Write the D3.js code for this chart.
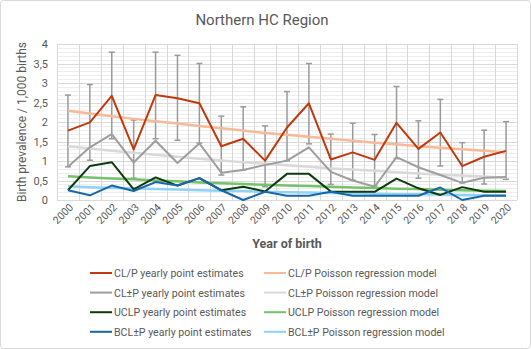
<!DOCTYPE html>
<html>
<head>
<meta charset="utf-8">
<script src="https://cdn.jsdelivr.net/npm/d3@7"></script>
<style>
  body { margin: 0; background: #fff; }
  text { font-family: Roboto, "Liberation Sans", sans-serif; fill: #595959; }
</style>
</head>
<body>
<div id="chart"></div>
<script>
// years on the x axis
var years = ["2000","2001","2002","2003","2004","2005","2006","2007","2008","2009","2010",
             "2011","2012","2013","2014","2015","2016","2017","2018","2019","2020"];

// yearly point estimates
var clp   = [1.78,1.99,2.67,1.30,2.69,2.61,2.48,1.38,1.57,1.01,1.86,2.48,1.04,1.22,1.03,1.98,1.31,1.73,0.87,1.11,1.26];
var clpLo = [0.85,1.02,1.57,0.56,1.57,1.53,1.46,0.64,0.77,0.34,1.01,1.44,0.40,0.51,0.36,1.06,0.56,0.87,0.44,0.41,0.53];
var clpHi = [2.69,2.96,3.79,2.05,3.79,3.71,3.50,2.15,2.39,1.90,2.78,3.50,1.69,1.97,1.68,2.91,2.03,2.58,1.47,1.79,2.01];
var clpm  = [0.85,1.35,1.69,0.96,1.52,0.95,1.45,0.70,0.77,0.90,1.01,1.35,0.72,0.50,0.34,1.10,0.84,0.64,0.44,0.57,0.59];
var uclp  = [0.25,0.87,0.97,0.27,0.58,0.37,0.56,0.25,0.34,0.22,0.67,0.67,0.22,0.21,0.21,0.55,0.30,0.13,0.33,0.21,0.21];
var bclp  = [0.25,0.12,0.37,0.23,0.46,0.37,0.56,0.25,0.00,0.21,0.11,0.11,0.21,0.11,0.11,0.11,0.11,0.32,0.00,0.11,0.11];

// poisson regression model curves
var clpFit  = [2.29,2.22,2.15,2.08,2.02,1.96,1.90,1.84,1.78,1.72,1.67,1.62,1.57,1.52,1.47,1.43,1.38,1.34,1.30,1.26,1.22];
var clpmFit = [1.38,1.32,1.26,1.21,1.16,1.11,1.06,1.01,0.97,0.93,0.89,0.85,0.81,0.78,0.75,0.71,0.68,0.65,0.63,0.60,0.57];
var uclpFit = [0.61,0.58,0.55,0.53,0.50,0.48,0.45,0.43,0.41,0.39,0.37,0.36,0.34,0.32,0.31,0.29,0.28,0.26,0.25,0.24,0.23];
var bclpFit = [0.35,0.33,0.31,0.30,0.28,0.27,0.25,0.24,0.23,0.21,0.20,0.19,0.18,0.17,0.16,0.15,0.15,0.14,0.13,0.12,0.12];

var yTicks = [0,0.5,1,1.5,2,2.5,3,3.5,4];

var W = 531, H = 349;
var margin = { top: 44, right: 14, bottom: 149, left: 57 };
var width = W - margin.left - margin.right,
    height = H - margin.top - margin.bottom;

var svg = d3.select("#chart").append("svg")
  .attr("width", W).attr("height", H);

// chart area border
svg.append("rect")
  .attr("x", 0.5).attr("y", 0.5).attr("width", W - 1).attr("height", H - 1)
  .attr("rx", 3).attr("fill", "#fff").attr("stroke", "#d9d9d9");

svg.append("text")
  .attr("x", 262).attr("y", 25)
  .attr("text-anchor", "middle")
  .style("font-size", "15px")
  .text("Northern HC Region");

var g = svg.append("g")
  .attr("transform", "translate(" + margin.left + "," + margin.top + ")");

var x = d3.scaleBand().domain(years).range([0, width]);
var y = d3.scaleLinear().domain([0, 4]).range([height, 0]);
var cx = function(i) { return x(years[i]) + x.bandwidth() / 2; };

// minor + major gridlines
g.selectAll(".minor")
  .data(d3.range(0, 4.001, 0.1))
  .enter().append("line")
  .attr("x1", 0).attr("x2", width)
  .attr("y1", function(d) { return Math.round(y(d)) + 0.5; })
  .attr("y2", function(d) { return Math.round(y(d)) + 0.5; })
  .attr("stroke", "#eeeeee");

g.selectAll(".major")
  .data(yTicks)
  .enter().append("line")
  .attr("x1", 0).attr("x2", width)
  .attr("y1", function(d) { return Math.round(y(d)) + 0.5; })
  .attr("y2", function(d) { return Math.round(y(d)) + 0.5; })
  .attr("stroke", "#d9d9d9");

g.selectAll(".vgrid")
  .data(years.concat(["end"]))
  .enter().append("line")
  .attr("x1", function(d, i) { return Math.round(i * x.step()) + 0.5; })
  .attr("x2", function(d, i) { return Math.round(i * x.step()) + 0.5; })
  .attr("y1", 0).attr("y2", height)
  .attr("stroke", "#d9d9d9");

// y axis labels
var yAxis = g.append("g")
  .call(d3.axisLeft(y).tickValues(yTicks).tickSize(0).tickPadding(9)
    .tickFormat(function(d) { return String(d).replace(".", ","); }));
yAxis.select(".domain").remove();
yAxis.selectAll("text").style("font-size", "11px").style("fill", "#595959");

// x axis labels, rotated
var xAxis = g.append("g")
  .attr("transform", "translate(0," + height + ")")
  .call(d3.axisBottom(x).tickSize(0).tickPadding(0));
xAxis.select(".domain").remove();
xAxis.selectAll("text")
  .style("font-size", "10.5px")
  .style("fill", "#595959")
  .attr("text-anchor", "end")
  .attr("dy", null)
  .attr("transform", "translate(6,8) rotate(-45)");

svg.append("text")
  .attr("x", 287).attr("y", 248)
  .attr("text-anchor", "middle")
  .style("font-size", "12.5px")
  .style("font-weight", "bold")
  .text("Year of birth");

svg.append("text")
  .attr("transform", "translate(26," + (margin.top + height / 2) + ") rotate(-90)")
  .attr("text-anchor", "middle")
  .style("font-size", "12px")
  .text("Birth prevalence / 1,000 births");

var line = d3.line()
  .x(function(d, i) { return cx(i); })
  .y(function(d) { return y(d); });

// series drawn back to front
var series = [
  { name: "CL/P yearly point estimates", values: clp, color: "#c0390d", width: 2 },
  { name: "CL/P Poisson regression model", values: clpFit, color: "#f7b997", width: 2.5 },
  { name: "CL\u00b1P yearly point estimates", values: clpm, color: "#9e9e9e", width: 2 },
  { name: "CL\u00b1P Poisson regression model", values: clpmFit, color: "#d9d9d9", width: 2.5 },
  { name: "UCLP yearly point estimates", values: uclp, color: "#0c3b10", width: 2 },
  { name: "UCLP Poisson regression model", values: uclpFit, color: "#76c16b", width: 2.5 },
  { name: "BCL\u00b1P yearly point estimates", values: bclp, color: "#1867a6", width: 2 },
  { name: "BCL\u00b1P Poisson regression model", values: bclpFit, color: "#8fd2f6", width: 2.5 }
];

var drawOrder = [1, 3, 5, 7, 2, 0, 4, 6];

// error bars for CL/P
var eb = g.selectAll(".err")
  .data(years)
  .enter().append("g")
  .attr("class", "err");
eb.append("line")
  .attr("x1", function(d, i) { return cx(i); })
  .attr("x2", function(d, i) { return cx(i); })
  .attr("y1", function(d, i) { return y(clpLo[i]); })
  .attr("y2", function(d, i) { return y(clpHi[i]); })
  .attr("stroke", "#9a9a9a").attr("stroke-width", 1.5);
[clpLo, clpHi].forEach(function(arr) {
  eb.append("line")
    .attr("x1", function(d, i) { return cx(i) - 3; })
    .attr("x2", function(d, i) { return cx(i) + 3; })
    .attr("y1", function(d, i) { return y(arr[i]); })
    .attr("y2", function(d, i) { return y(arr[i]); })
    .attr("stroke", "#9a9a9a").attr("stroke-width", 1.5);
});

drawOrder.forEach(function(k) {
  var s = series[k];
  g.append("path")
    .datum(s.values)
    .attr("d", line)
    .attr("fill", "none")
    .attr("stroke", s.color)
    .attr("stroke-width", s.width)
    .attr("stroke-linejoin", "round");
});

// legend, two columns
var legend = svg.append("g");
series.forEach(function(s, k) {
  var col = k % 2, row = Math.floor(k / 2);
  var lx = col === 0 ? 90 : 264, ly = 273 + row * 19.6;
  legend.append("line")
    .attr("x1", lx).attr("x2", lx + 22)
    .attr("y1", ly).attr("y2", ly)
    .attr("stroke", s.color).attr("stroke-width", 2);
  legend.append("text")
    .attr("x", lx + 24).attr("y", ly + 4)
    .style("font-size", "10.6px")
    .text(s.name);
});
</script>
</body>
</html>
